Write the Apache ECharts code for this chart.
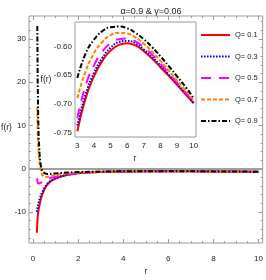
<!DOCTYPE html>
<html><head><meta charset="utf-8">
<script src="https://cdn.jsdelivr.net/npm/echarts@6/dist/echarts.min.js"></script>
<style>html,body{margin:0;padding:0;background:#fff}#c{width:266px;height:280px}</style>
</head><body><div id="c"></div>
<script>
// ---- data ----
const rValues = [0.17,0.19,0.2,0.21,0.23,0.25,0.3,0.35,0.4,0.5,0.6,0.7,0.8,1.0,1.2,1.5,2,2.5,3,3.5,4,4.5,5,5.5,6,6.5,7,7.5,8,8.5,9,9.5,10];
const fQ01 = [-14.8,-12.6,-11.7,-11.0,-10.1,-9.4,-8.1,-7.0,-6.1,-4.8,-3.9,-3.3,-2.85,-2.25,-1.85,-1.45,-1.05,-0.87,-0.748,-0.69,-0.652,-0.625,-0.607,-0.597,-0.594,-0.598,-0.608,-0.621,-0.636,-0.651,-0.667,-0.683,-0.699];
const fQ03 = [-10.0,-9.3,-9.0,-8.7,-8.2,-7.8,-6.9,-6.1,-5.5,-4.5,-3.7,-3.15,-2.75,-2.2,-1.82,-1.43,-1.03,-0.86,-0.738,-0.683,-0.646,-0.62,-0.602,-0.592,-0.59,-0.594,-0.605,-0.618,-0.633,-0.649,-0.665,-0.681,-0.698];
const fQ05 = [null,-2.2,-3.0,-3.35,-3.5,-3.5,-3.4,-3.2,-3.0,-2.75,-2.5,-2.3,-2.1,-1.85,-1.6,-1.35,-1.0,-0.84,-0.725,-0.668,-0.633,-0.609,-0.594,-0.587,-0.586,-0.591,-0.601,-0.614,-0.63,-0.646,-0.663,-0.68,-0.697];
const fQ07 = [null,14.2,11.0,8.5,5.5,3.8,1.0,-0.6,-1.4,-1.9,-1.9,-1.8,-1.66,-1.45,-1.3,-1.12,-0.92,-0.79,-0.69,-0.643,-0.612,-0.592,-0.58,-0.576,-0.577,-0.584,-0.595,-0.609,-0.625,-0.642,-0.659,-0.676,-0.694];
const fQ09 = [null,33,26,20,12,7.5,2.5,0.6,-0.3,-1.0,-1.2,-1.22,-1.18,-1.08,-0.99,-0.89,-0.78,-0.7,-0.655,-0.612,-0.588,-0.573,-0.566,-0.565,-0.568,-0.576,-0.587,-0.601,-0.617,-0.634,-0.652,-0.67,-0.69];
const seriesNames = ['Q= 0.1','Q= 0.3','Q= 0.5','Q= 0.7','Q= 0.9'];
const mainXTicks = [0,2,4,6,8,10];
const mainYTicks = [-10,0,10,20,30];
const insetXTicks = [3,4,5,6,7,8,9,10];
const insetYTicks = [-0.75,-0.70,-0.65,-0.60];
const titleText = 'α=0.9 & γ=0.06';

// ---- styling ----
const FONT = "'Liberation Sans', Arial, sans-serif";
const TXT = '#222';
const FRAME = '#9a9a9a';
const styles = [
  {color:'#ff0000', type:'solid'},
  {color:'#0000ff', type:[1.6,1.4]},
  {color:'#ff00ff', type:[10,8]},
  {color:'#ff8000', type:[4,2]},
  {color:'#000000', type:[5,2,1.5,2]}
];
const allF = [fQ01,fQ03,fQ05,fQ07,fQ09];

function steps(a, b, s){ const out=[]; for(let v=a; v<=b+1e-9; v+=s) out.push(+v.toFixed(4)); return out; }

function makeAxes(dim, grid, min, max, majors, minors, fmt, margin){
  const pos = dim==='x' ? ['bottom','top'] : ['left','right'];
  const res = [];
  pos.forEach((p, pi) => {
    [[majors,4],[minors,2]].forEach(([vals,len], ki) => {
      res.push({
        type:'value', gridIndex:grid, min, max, position:p,
        axisLine:{show:false,onZero:false},
        splitLine:{show:false},
        axisTick:{show:true, inside:true, length:len, customValues:vals, lineStyle:{color:FRAME,width:1}},
        axisLabel:{show: pi===0 && ki===0, customValues:majors, margin, fontSize:8, color:TXT, fontFamily:FONT, formatter:fmt},
        axisPointer:{show:false}
      });
    });
  });
  return res;
}

const xAxes = [].concat(
  makeAxes('x',0,-0.177,10.18,mainXTicks,steps(0,10,0.5),v=>String(v),12),
  makeAxes('x',1,2.86,10.14,insetXTicks,steps(3,10,0.2),v=>String(v),5)
);
const yAxes = [].concat(
  makeAxes('y',0,-17.17,35.3,mainYTicks,steps(-16,34,2),v=>String(v),3),
  makeAxes('y',1,-0.758,-0.557,insetYTicks,steps(-0.75,-0.56,0.01),v=>v.toFixed(2),3)
);

const series = [];
allF.forEach((arr, i) => {
  const pts = [];
  rValues.forEach((r, k) => { if (arr[k] !== null) pts.push([r, arr[k]]); });
  series.push({
    name: seriesNames[i], type:'line', xAxisIndex:0, yAxisIndex:0,
    data: pts, showSymbol:false, symbol:'none', smooth:false,
    lineStyle:{color:styles[i].color, type:styles[i].type, width:2},
    itemStyle:{color:styles[i].color},
    z: 3 + i, silent:true,
    markLine: i===0 ? {silent:true, symbol:'none', label:{show:false},
      lineStyle:{color:'#a0a0a0', width:2, type:'solid'}, data:[{yAxis:0}], z:2} : undefined
  });
});
allF.forEach((arr, i) => {
  const pts = [];
  rValues.forEach((r, k) => { if (arr[k] !== null && r >= 3) pts.push([r, arr[k]]); });
  series.push({
    name: seriesNames[i], type:'line', xAxisIndex:4, yAxisIndex:4,
    data: pts, showSymbol:false, symbol:'none', smooth:0.5,
    lineStyle:{color:styles[i].color, type:styles[i].type, width:2},
    itemStyle:{color:styles[i].color},
    z: 10 + i, silent:true
  });
});

const chart = echarts.init(document.getElementById('c'), null, {renderer:'canvas'});
chart.setOption({
  animation:false,
  backgroundColor:'#fff',
  title:{text:titleText, left:146, top:2, textAlign:'center',
    textStyle:{fontSize:9, fontWeight:'normal', color:TXT, fontFamily:FONT}},
  grid:[
    {left:29, top:16, width:234, height:227, show:true, borderColor:FRAME, borderWidth:1, backgroundColor:'transparent', containLabel:false},
    {left:75, top:22, width:121, height:115, show:true, borderColor:FRAME, borderWidth:1, backgroundColor:'#fff', containLabel:false, z:5}
  ],
  xAxis: xAxes,
  yAxis: yAxes,
  legend:{
    orient:'vertical', left:200, top:31, padding:0, itemWidth:29, itemHeight:8, itemGap:13.5,
    data: seriesNames, selectedMode:false,
    itemStyle:{opacity:0, borderWidth:0},
    lineStyle:{width:2},
    textStyle:{fontSize:7.5, color:TXT, fontFamily:FONT}
  },
  graphic:[
    {type:'text', x:6.5, y:128, style:{text:'f(r)', fontSize:8.5, fontFamily:FONT, fill:TXT, align:'center', verticalAlign:'middle'}},
    {type:'text', x:146, y:272, style:{text:'r', fontSize:8.5, fontFamily:FONT, fill:TXT, align:'center', verticalAlign:'middle'}},
    {type:'text', x:46, y:80, style:{text:'f(r)', fontSize:8.5, fontFamily:FONT, fill:TXT, align:'center', verticalAlign:'middle'}},
    {type:'text', x:135, y:159, style:{text:'r', fontSize:8.5, fontFamily:FONT, fill:TXT, align:'center', verticalAlign:'middle'}}
  ],
  series: series
});
</script>
</body></html>
